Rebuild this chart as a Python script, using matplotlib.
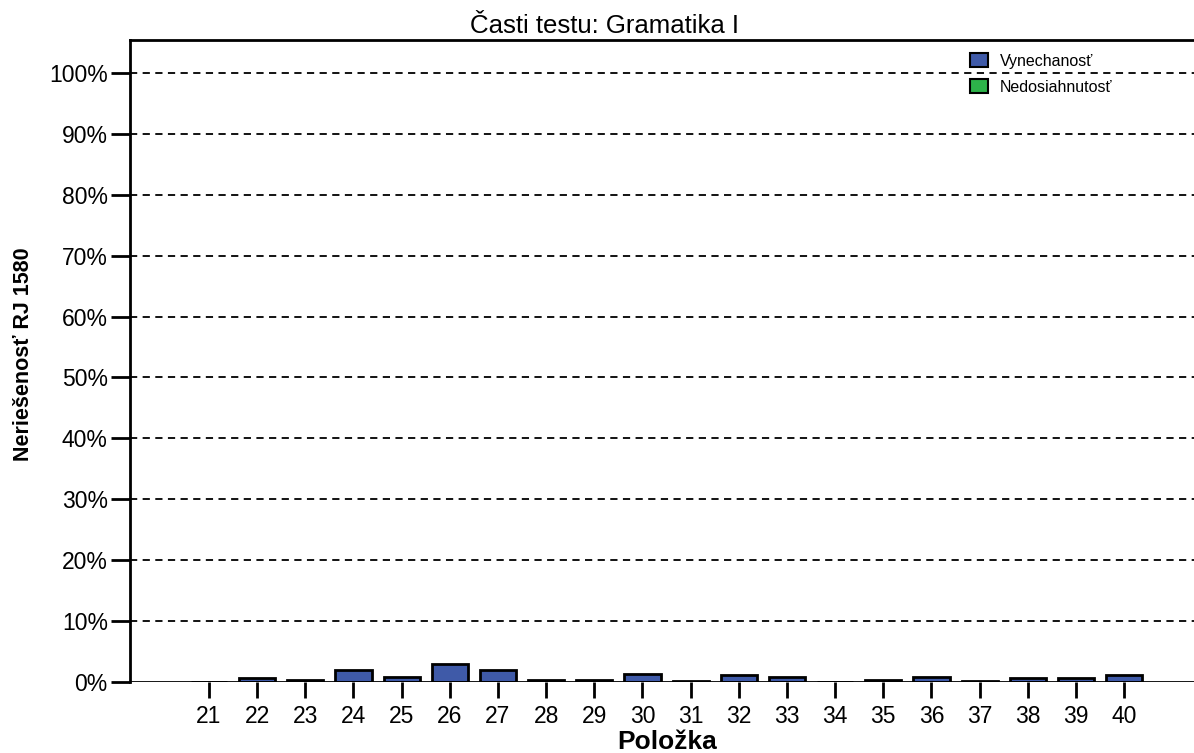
import matplotlib
matplotlib.use("Agg")
import matplotlib.pyplot as plt
from matplotlib.ticker import FuncFormatter

plt.rcParams['font.family'] = ['Liberation Sans', 'DejaVu Sans']

# data
items = list(range(21, 41))
vynechanost = [0.0, 0.6, 0.4, 1.9, 0.8, 2.9, 1.9, 0.3, 0.3, 1.3,
               0.15, 1.1, 0.8, 0.0, 0.4, 0.85, 0.15, 0.6, 0.6, 1.1]
nedosiahnutost = [0.0] * 20
yticks = list(range(0, 101, 10))

W, H = 1194, 753
fig = plt.figure(figsize=(W / 100, H / 100), dpi=100)
ax = fig.add_axes([130 / W, 1 - 682 / H, 1 - 130 / W, (682 - 40) / H])

ax.bar(items, vynechanost, width=0.75, color='#3f5aa8', edgecolor='black',
       linewidth=2, label='Vynechanosť', zorder=3)
ax.bar(items, nedosiahnutost, width=0.75, bottom=vynechanost, color='#2db34a',
       edgecolor='black', linewidth=0, label='Nedosiahnutosť', zorder=3)

ax.set_xlim(19.36, 41.45)
ax.set_ylim(0, 105.4)
ax.set_xticks(items)
ax.set_yticks(yticks)
ax.yaxis.set_major_formatter(FuncFormatter(lambda v, p: '%d%%' % v))
for y in yticks[1:]:
    ax.axhline(y, color='black', linestyle=(0, (4, 3)), linewidth=1.3, zorder=1)
ax.axhline(0, color='black', linewidth=2, zorder=4)

for s in ['left', 'top']:
    ax.spines[s].set_linewidth(2)
ax.spines['right'].set_visible(False)
ax.spines['bottom'].set_visible(False)
ax.tick_params(axis='y', length=14, width=2, labelsize=16.5, pad=2)
ax.tick_params(axis='x', length=11.5, width=2, labelsize=16.5, pad=5)

ax.set_title('Časti testu: Gramatika I', fontsize=18.5, pad=5, x=0.446)
ax.set_xlabel('Položka', fontsize=19, fontweight='bold', va='baseline')
ax.xaxis.set_label_coords(0.505, -0.104)
ax.set_ylabel('Neriešenosť RJ 1580', fontsize=15.5, fontweight='bold')
ax.yaxis.set_label_coords(-0.09, 0.511)

leg = fig.legend(loc='upper left', bbox_to_anchor=(970 / W, 1 - 53 / H),
                 frameon=False, fontsize=11.5, handlelength=1.13, handleheight=1.0,
                 handletextpad=0.75, labelspacing=0.65, borderpad=0,
                 borderaxespad=0)
for h in leg.legend_handles:
    h.set_edgecolor('black')
    h.set_linewidth(1.5)

fig.savefig('out.png', dpi=100)
